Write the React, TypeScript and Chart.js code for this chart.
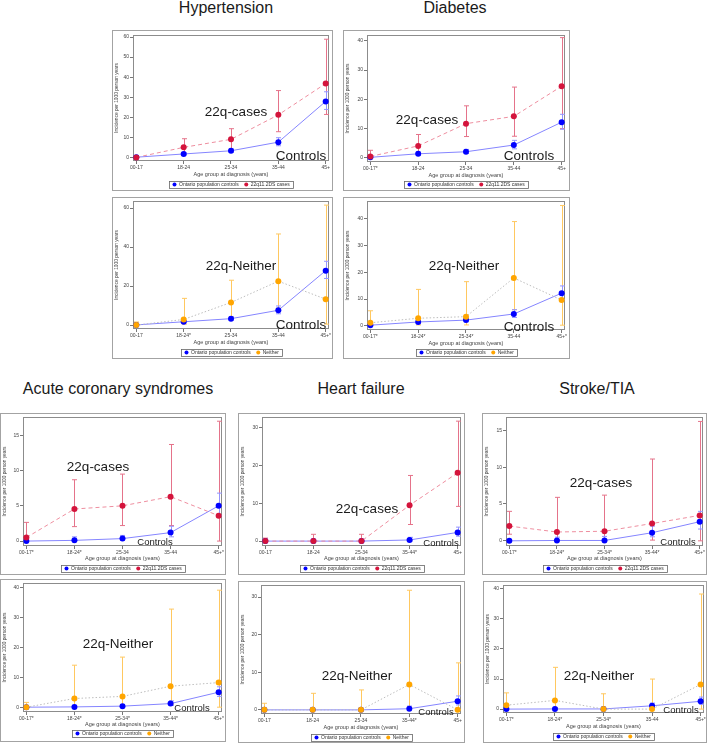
import { useEffect, useRef } from "react";
import { Chart, registerables } from "chart.js";

Chart.register(...registerables);

const FONT = '"Liberation Sans", Arial, Helvetica, sans-serif';

const CONTROL_LABEL = "Ontario population controls";
const CASE_LABEL = "22q11.2DS cases";
const NEITHER_LABEL = "Neither";
const X_TITLE = "Age group at diagnosis (years)";
const Y_TITLE = "Incidence per 1000 person years";

// ---------- Hypertension ----------
const htLabelsCases = ["00-17", "18-24", "25-34", "35-44", "45+"];
const htLabelsNeither = ["00-17", "18-24*", "25-34", "35-44", "45+*"];
const htCtrl = [0.1, 1.7, 3.3, 7.6, 27.9];
const htCtrlLo = [0, 1.3, 2.6, 5.8, 23.9];
const htCtrlHi = [0.3, 2.2, 4.2, 9.8, 32.7];
const htCase = [0, 5.0, 9.0, 21.2, 36.8];
const htCaseLo = [0, 2.0, 3.6, 12.8, 21.4];
const htCaseHi = [0.8, 9.3, 14.3, 33.3, 58.9];
const htNeither = [0, 2.9, 11.6, 22.5, 13.3];
const htNeitherLo = [0, 0.5, 4.0, 8.7, 0.5];
const htNeitherHi = [1.6, 13.7, 23.0, 46.7, 61.5];
const htTicksCases = [0, 10, 20, 30, 40, 50, 60];
const htTicksNeither = [0, 20, 40, 60];

// ---------- Diabetes ----------
const dmLabelsCases = ["00-17*", "18-24", "25-34", "35-44", "45+"];
const dmLabelsNeither = ["00-17*", "18-24*", "25-34*", "35-44", "45+*"];
const dmCtrl = [0.2, 1.4, 2.1, 4.4, 12.2];
const dmCtrlLo = [0.05, 1.0, 1.5, 3.1, 9.8];
const dmCtrlHi = [0.5, 2.0, 2.9, 6.0, 14.9];
const dmCase = [0.5, 4.1, 11.7, 14.2, 24.5];
const dmCaseLo = [0.05, 1.0, 7.3, 7.4, 10.0];
const dmCaseHi = [2.6, 8.0, 17.8, 24.2, 41.1];
const dmNeither = [1.1, 2.8, 3.4, 17.9, 9.6];
const dmNeitherLo = [0.1, 0.3, 0.3, 6.0, 0.2];
const dmNeitherHi = [5.6, 13.6, 16.5, 39.0, 45.0];
const dmTicks = [0, 10, 20, 30, 40];

// ---------- Acute coronary syndromes ----------
const acsLabelsCases = ["00-17*", "18-24*", "25-34", "35-44", "45+*"];
const acsLabelsNeither = ["00-17*", "18-24*", "25-34*", "35-44*", "45+*"];
const acsCtrl = [0, 0.1, 0.35, 1.2, 5.0];
const acsCtrlLo = [0, 0.02, 0.15, 0.6, 3.6];
const acsCtrlHi = [0.1, 0.6, 0.8, 2.1, 6.8];
const acsCase = [0.5, 4.55, 5.0, 6.3, 3.6];
const acsCaseLo = [0.05, 2.05, 2.2, 2.2, 0];
const acsCaseHi = [2.65, 8.7, 9.5, 13.7, 17.0];
const acsNeither = [0, 2.9, 3.6, 7.0, 8.2];
const acsNeitherLo = [0, 0.3, 0.4, 1.0, 0];
const acsNeitherHi = [1.6, 14.0, 16.7, 32.7, 39.0];
const acsTicksCases = [0, 5, 10, 15];
const acsTicksNeither = [0, 10, 20, 30, 40];

// ---------- Heart failure ----------
const hfLabels = ["00-17", "18-24", "25-34", "35-44*", "45+"];
const hfCtrl = [0, 0, 0, 0.3, 2.3];
const hfCtrlLo = [0, 0, 0, 0.05, 1.3];
const hfCtrlHi = [0.05, 0.05, 0.1, 1.0, 3.7];
const hfCase = [0, 0, 0, 9.5, 18.1];
const hfCaseLo = [0, 0, 0, 4.4, 9.2];
const hfCaseHi = [0.8, 1.8, 1.8, 17.4, 31.8];
const hfNeither = [0, 0, 0, 6.75, 0];
const hfNeitherLo = [0, 0, 0, 0.8, 0];
const hfNeitherHi = [1.75, 4.4, 5.3, 31.8, 12.5];
const hfTicks = [0, 10, 20, 30];

// ---------- Stroke/TIA ----------
const stLabelsCases = ["00-17*", "18-24*", "25-34*", "35-44*", "45+*"];
const stLabelsNeither = ["00-17*", "18-24*", "25-34*", "35-44", "45+*"];
const stCtrl = [0, 0.05, 0.05, 1.1, 2.6];
const stCtrlLo = [0, 0, 0, 0.55, 1.6];
const stCtrlHi = [0.1, 0.5, 0.6, 2.0, 4.0];
const stCase = [2.0, 1.2, 1.3, 2.35, 3.45];
const stCaseLo = [0.9, 0.1, 0.1, 0.1, 0];
const stCaseHi = [4.0, 5.9, 6.2, 11.1, 16.2];
const stNeither = [1.3, 2.9, 0, 0, 8.2];
const stNeitherLo = [0.1, 0.3, 0, 0, 0];
const stNeitherHi = [5.4, 13.9, 5.1, 10.0, 38.3];
const stTicksCases = [0, 5, 10, 15];
const stTicksNeither = [0, 10, 20, 30, 40];

type Kind = "cases" | "neither";

interface SeriesStyle {
  point: string;
  line: string;
  err: string;
  dash: number[];
}

const STYLES: Record<"ctrl" | Kind, SeriesStyle> = {
  ctrl: { point: "#0000ff", line: "#8585ff", err: "#9494ff", dash: [] },
  cases: { point: "#d4143c", line: "#ee8e9f", err: "#e5738a", dash: [4, 3] },
  neither: { point: "#ffa500", line: "#bdbdbd", err: "#ffc860", dash: [1.5, 2] },
};

interface PanelSpec {
  id: string;
  box: [number, number, number, number]; // x, y, w, h on page
  plot: [number, number, number, number]; // left, top, right, bottom on page
  xTitleY: number;
  legendY: number;
  labels: string[];
  yRange: [number, number];
  yTicks: number[];
  kind: Kind;
  ctrl: [number[], number[], number[]];
  cmp: [number[], number[], number[]];
  tag: { text: string; x: number; y: number; size: number };
  ctrlTag: { x: number; y: number; size: number };
}

const panels: PanelSpec[] = [
  {
    id: "ht-cases", box: [112, 30, 221, 161], plot: [133, 35, 329, 161], xTitleY: 174, legendY: 184,
    labels: htLabelsCases, yRange: [-1.8, 61], yTicks: htTicksCases, kind: "cases",
    ctrl: [htCtrl, htCtrlLo, htCtrlHi], cmp: [htCase, htCaseLo, htCaseHi],
    tag: { text: "22q-cases", x: 236, y: 112, size: 13.5 }, ctrlTag: { x: 301, y: 156, size: 13.5 },
  },
  {
    id: "ht-neither", box: [112, 197, 221, 162], plot: [133, 201, 329, 329], xTitleY: 342, legendY: 352,
    labels: htLabelsNeither, yRange: [-2, 63.6], yTicks: htTicksNeither, kind: "neither",
    ctrl: [htCtrl, htCtrlLo, htCtrlHi], cmp: [htNeither, htNeitherLo, htNeitherHi],
    tag: { text: "22q-Neither", x: 241, y: 266, size: 13.5 }, ctrlTag: { x: 301, y: 325, size: 13.5 },
  },
  {
    id: "dm-cases", box: [343, 30, 227, 161], plot: [367, 35, 565, 162], xTitleY: 175, legendY: 184,
    labels: dmLabelsCases, yRange: [-1.4, 42], yTicks: dmTicks, kind: "cases",
    ctrl: [dmCtrl, dmCtrlLo, dmCtrlHi], cmp: [dmCase, dmCaseLo, dmCaseHi],
    tag: { text: "22q-cases", x: 427, y: 120, size: 13.5 }, ctrlTag: { x: 529, y: 156, size: 13.5 },
  },
  {
    id: "dm-neither", box: [343, 197, 227, 162], plot: [367, 201, 565, 330], xTitleY: 343, legendY: 352,
    labels: dmLabelsNeither, yRange: [-1.6, 46.7], yTicks: dmTicks, kind: "neither",
    ctrl: [dmCtrl, dmCtrlLo, dmCtrlHi], cmp: [dmNeither, dmNeitherLo, dmNeitherHi],
    tag: { text: "22q-Neither", x: 464, y: 266, size: 13.5 }, ctrlTag: { x: 529, y: 327, size: 13.5 },
  },
  {
    id: "acs-cases", box: [0, 413, 226, 162], plot: [23, 417, 222, 546], xTitleY: 558, legendY: 568,
    labels: acsLabelsCases, yRange: [-0.7, 17.6], yTicks: acsTicksCases, kind: "cases",
    ctrl: [acsCtrl, acsCtrlLo, acsCtrlHi], cmp: [acsCase, acsCaseLo, acsCaseHi],
    tag: { text: "22q-cases", x: 98, y: 467, size: 13.5 }, ctrlTag: { x: 155, y: 542, size: 9.5 },
  },
  {
    id: "acs-neither", box: [0, 579, 226, 163], plot: [23, 583, 222, 712], xTitleY: 724, legendY: 733,
    labels: acsLabelsNeither, yRange: [-1.6, 41.4], yTicks: acsTicksNeither, kind: "neither",
    ctrl: [acsCtrl, acsCtrlLo, acsCtrlHi], cmp: [acsNeither, acsNeitherLo, acsNeitherHi],
    tag: { text: "22q-Neither", x: 118, y: 644, size: 13.5 }, ctrlTag: { x: 192, y: 708, size: 9.5 },
  },
  {
    id: "hf-cases", box: [238, 413, 227, 162], plot: [262, 417, 461, 546], xTitleY: 558, legendY: 568,
    labels: hfLabels, yRange: [-1.3, 32.9], yTicks: hfTicks, kind: "cases",
    ctrl: [hfCtrl, hfCtrlLo, hfCtrlHi], cmp: [hfCase, hfCaseLo, hfCaseHi],
    tag: { text: "22q-cases", x: 367, y: 509, size: 13.5 }, ctrlTag: { x: 441, y: 543, size: 9.5 },
  },
  {
    id: "hf-neither", box: [238, 581, 227, 162], plot: [261, 584, 461, 714], xTitleY: 727, legendY: 737,
    labels: hfLabels, yRange: [-1.1, 33.2], yTicks: hfTicks, kind: "neither",
    ctrl: [hfCtrl, hfCtrlLo, hfCtrlHi], cmp: [hfNeither, hfNeitherLo, hfNeitherHi],
    tag: { text: "22q-Neither", x: 357, y: 676, size: 13.5 }, ctrlTag: { x: 436, y: 712, size: 9.5 },
  },
  {
    id: "st-cases", box: [482, 413, 225, 162], plot: [506, 417, 703, 546], xTitleY: 558, legendY: 568,
    labels: stLabelsCases, yRange: [-0.7, 16.8], yTicks: stTicksCases, kind: "cases",
    ctrl: [stCtrl, stCtrlLo, stCtrlHi], cmp: [stCase, stCaseLo, stCaseHi],
    tag: { text: "22q-cases", x: 601, y: 483, size: 13.5 }, ctrlTag: { x: 678, y: 542, size: 9.5 },
  },
  {
    id: "st-neither", box: [483, 581, 224, 162], plot: [503, 585, 704, 713], xTitleY: 726, legendY: 736,
    labels: stLabelsNeither, yRange: [-1.3, 41.3], yTicks: stTicksNeither, kind: "neither",
    ctrl: [stCtrl, stCtrlLo, stCtrlHi], cmp: [stNeither, stNeitherLo, stNeitherHi],
    tag: { text: "22q-Neither", x: 599, y: 676, size: 13.5 }, ctrlTag: { x: 681, y: 710, size: 9.5 },
  },
];

const titles = [
  { text: "Hypertension", x: 226, y: 8 },
  { text: "Diabetes", x: 455, y: 8 },
  { text: "Acute coronary syndromes", x: 118, y: 389 },
  { text: "Heart failure", x: 361, y: 389 },
  { text: "Stroke/TIA", x: 597, y: 389 },
];

const TICK_FONT = { size: 5, family: FONT };
const TITLE_FONT = { size: 5.5, family: FONT };

// Frame around the plotting area
const framePlugin = {
  id: "plotFrame",
  beforeDatasetsDraw(chart: any) {
    const { ctx, chartArea: a } = chart;
    ctx.save();
    ctx.strokeStyle = "#8c8c8c";
    ctx.lineWidth = 1;
    ctx.strokeRect(a.left + 0.5, a.top + 0.5, a.right - a.left - 1, a.bottom - a.top - 1);
    ctx.restore();
  },
};

// Vertical confidence-interval whiskers with caps
const errorBarPlugin = {
  id: "errorBars",
  beforeDatasetsDraw(chart: any) {
    const { ctx } = chart;
    const xs = chart.scales.x;
    const ys = chart.scales.y;
    chart.data.datasets.forEach((ds: any) => {
      if (!ds.lo) return;
      ctx.save();
      ctx.strokeStyle = ds.errColor;
      ctx.lineWidth = 1;
      ds.data.forEach((p: { x: number; y: number }, i: number) => {
        const px = Math.round(xs.getPixelForValue(p.x)) + 0.5;
        const y1 = ys.getPixelForValue(ds.lo[i]);
        const y2 = ys.getPixelForValue(ds.hi[i]);
        ctx.beginPath();
        ctx.moveTo(px, y1);
        ctx.lineTo(px, y2);
        ctx.moveTo(px - 2.5, y1);
        ctx.lineTo(px + 2.5, y1);
        ctx.moveTo(px - 2.5, y2);
        ctx.lineTo(px + 2.5, y2);
        ctx.stroke();
      });
      ctx.restore();
    });
  },
};

function legendPlugin(spec: PanelSpec) {
  return {
    id: "boxLegend",
    afterDraw(chart: any) {
      const ctx = chart.ctx as CanvasRenderingContext2D;
      const items = [
        { label: CONTROL_LABEL, color: STYLES.ctrl.point },
        { label: spec.kind === "cases" ? CASE_LABEL : NEITHER_LABEL, color: STYLES[spec.kind].point },
      ];
      ctx.save();
      ctx.font = `5px ${FONT}`;
      const marker = 5;
      const gap = 2;
      const itemGap = 5;
      const pad = 3;
      const widths = items.map((it) => ctx.measureText(it.label).width);
      const total =
        pad * 2 + widths.reduce((acc, w) => acc + marker + gap + w, 0) + itemGap * (items.length - 1);
      const a = chart.chartArea;
      const cx = (a.left + a.right) / 2;
      const cy = spec.legendY - spec.box[1];
      const h = 7;
      let x = Math.round(cx - total / 2);
      ctx.strokeStyle = "#666";
      ctx.lineWidth = 0.8;
      ctx.strokeRect(x + 0.5, Math.round(cy - h / 2) + 0.5, Math.round(total), h);
      x += pad;
      items.forEach((it, i) => {
        ctx.fillStyle = it.color;
        ctx.beginPath();
        ctx.arc(x + marker / 2, cy + 0.5, 2, 0, Math.PI * 2);
        ctx.fill();
        x += marker + gap;
        ctx.fillStyle = "#333";
        ctx.textAlign = "left";
        ctx.textBaseline = "middle";
        ctx.fillText(it.label, x, cy + 0.5);
        x += widths[i] + itemGap;
      });
      ctx.restore();
    },
  };
}

function makeDataset(values: number[], lo: number[], hi: number[], label: string, style: SeriesStyle) {
  return {
    label,
    data: values.map((v, i) => ({ x: i, y: v })),
    lo,
    hi,
    errColor: style.err,
    borderColor: style.line,
    borderWidth: 1,
    borderDash: style.dash,
    pointBackgroundColor: style.point,
    pointBorderWidth: 0,
    pointRadius: 3,
    tension: 0,
    fill: false,
    clip: false,
  };
}

function Panel({ spec }: { spec: PanelSpec }) {
  const ref = useRef<HTMLCanvasElement>(null);
  const [bx, by, bw, bh] = spec.box;
  const [pl, pt, pr, pb] = spec.plot;

  useEffect(() => {
    const padLeft = 2;
    const yAxisW = pl - bx - padLeft;
    const xAxisH = spec.xTitleY - pb + 3.3;
    const padBottom = by + bh - pb - xAxisH;
    const cmpLabel = spec.kind === "cases" ? CASE_LABEL : NEITHER_LABEL;
    const chart = new Chart(ref.current as HTMLCanvasElement, {
      type: "line",
      data: {
        datasets: [
          makeDataset(spec.cmp[0], spec.cmp[1], spec.cmp[2], cmpLabel, STYLES[spec.kind]),
          makeDataset(spec.ctrl[0], spec.ctrl[1], spec.ctrl[2], CONTROL_LABEL, STYLES.ctrl),
        ] as any,
      },
      options: {
        animation: false,
        responsive: false,
        devicePixelRatio: 1,
        layout: {
          autoPadding: false,
          padding: { left: padLeft, top: pt - by, right: bx + bw - pr, bottom: padBottom },
        },
        plugins: { legend: { display: false }, tooltip: { enabled: false } },
        scales: {
          x: {
            type: "linear",
            min: -0.07,
            max: 4.07,
            afterBuildTicks: (s: any) => {
              s.ticks = spec.labels.map((_, i) => ({ value: i }));
            },
            afterFit: (s: any) => {
              s.height = xAxisH;
            },
            ticks: {
              callback: (v: any) => spec.labels[Math.round(Number(v))] ?? "",
              font: TICK_FONT,
              color: "#444",
              padding: 1,
              maxRotation: 0,
              autoSkip: false,
            },
            grid: { drawOnChartArea: false, tickLength: 3, color: "#777" },
            border: { display: false },
            title: { display: true, text: X_TITLE, font: TITLE_FONT, color: "#444", padding: 0 },
          },
          y: {
            type: "linear",
            min: spec.yRange[0],
            max: spec.yRange[1],
            afterBuildTicks: (s: any) => {
              s.ticks = spec.yTicks.map((v) => ({ value: v }));
            },
            afterFit: (s: any) => {
              s.width = yAxisW;
            },
            ticks: { font: TICK_FONT, color: "#444", padding: 1 },
            grid: { drawOnChartArea: false, tickLength: 3, color: "#777" },
            border: { display: false },
            title: { display: true, text: Y_TITLE, font: { size: 4.8, family: FONT }, color: "#444", padding: 0 },
          },
        },
      } as any,
      plugins: [framePlugin, errorBarPlugin, legendPlugin(spec)],
    });
    return () => chart.destroy();
  }, [spec]);

  return (
    <>
      <div
        style={{
          position: "absolute",
          left: bx,
          top: by,
          width: bw,
          height: bh,
          boxSizing: "border-box",
          border: "1.5px solid #a3a3a3",
          background: "#fff",
        }}
      />
      <canvas
        ref={ref}
        width={bw}
        height={bh}
        style={{ position: "absolute", left: bx, top: by, width: bw, height: bh }}
      />
      <div style={labelStyle(spec.tag.x, spec.tag.y, spec.tag.size)}>{spec.tag.text}</div>
      <div style={labelStyle(spec.ctrlTag.x, spec.ctrlTag.y, spec.ctrlTag.size)}>Controls</div>
    </>
  );
}

function labelStyle(x: number, y: number, size: number): React.CSSProperties {
  return {
    position: "absolute",
    left: x,
    top: y,
    transform: "translate(-50%, -50%)",
    fontFamily: FONT,
    fontSize: size,
    lineHeight: 1,
    color: "#1a1a1a",
    whiteSpace: "nowrap",
  };
}

export default function App() {
  return (
    <div
      style={{
        position: "absolute",
        left: 0,
        top: 0,
        width: 708,
        height: 744,
        overflow: "hidden",
        background: "#fff",
      }}
    >
      {titles.map((t) => (
        <div key={t.text} style={labelStyle(t.x, t.y, 16)}>
          {t.text}
        </div>
      ))}
      {panels.map((p) => (
        <Panel key={p.id} spec={p} />
      ))}
    </div>
  );
}
